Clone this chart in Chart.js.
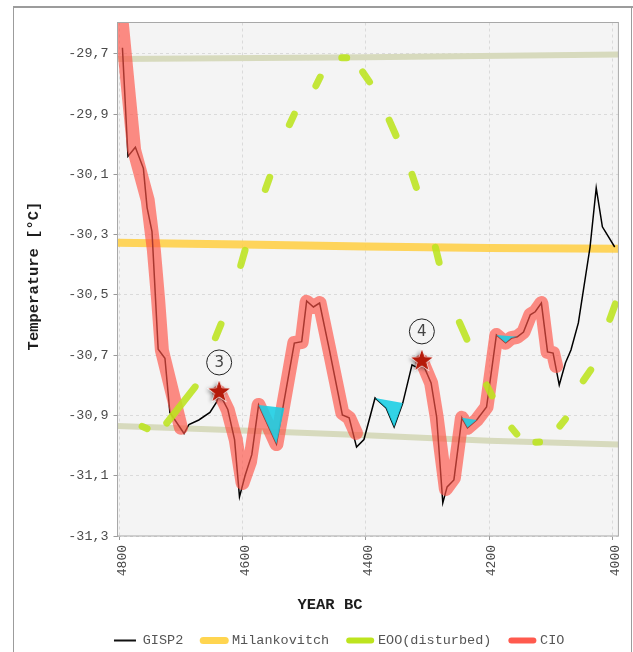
<!DOCTYPE html>
<html><head><meta charset="utf-8">
<style>html,body{margin:0;padding:0;background:#fff;overflow:hidden}canvas{display:block}</style>
<script src="https://cdn.jsdelivr.net/npm/chart.js@4.4.1/dist/chart.umd.min.js"></script>
</head><body>
<canvas id="c" width="633" height="652" style="width:633px;height:652px"></canvas>
<script>
// ---------- data ----------
const xTicks = [4800, 4600, 4400, 4200, 4000];
const yTicks = [-31.3, -31.1, -30.9, -30.7, -30.5, -30.3, -30.1, -29.9, -29.7];

const gispYears = [4795, 4786, 4774, 4761, 4755, 4747, 4737, 4726, 4718, 4695, 4687, 4671, 4653, 4642, 4638,
  4624, 4613, 4605, 4596, 4585, 4574, 4545, 4516, 4504, 4496, 4485, 4475, 4459, 4438, 4427, 4415, 4403,
  4385, 4367, 4354, 4340, 4325, 4319, 4309, 4294, 4285, 4275, 4268, 4257, 4244, 4235, 4220, 4204, 4188,
  4173, 4163, 4154, 4144, 4133, 4125, 4115, 4105, 4096, 4086, 4076, 4067, 4055, 4036, 4026, 4016, 4007, 3996];
const gispValues = [-29.68, -30.04, -30.01, -30.08, -30.21, -30.29, -30.68, -30.71, -30.89, -30.96, -30.93, -30.915, -30.89, -30.855, -30.825,
  -30.88, -30.98, -31.17, -31.10, -31.03, -30.865, -30.995, -30.66, -30.655, -30.52, -30.54, -30.527, -30.683, -30.898, -30.908, -31.005, -30.98,
  -30.842, -30.875, -30.938, -30.859, -30.732, -30.739, -30.722, -30.792, -30.905, -31.19, -31.137, -31.114, -30.908, -30.941, -30.915, -30.872, -30.633,
  -30.659, -30.643, -30.639, -30.623, -30.566, -30.556, -30.527, -30.689, -30.693, -30.799, -30.726, -30.683, -30.593, -30.341, -30.145, -30.274, -30.304, -30.341];

const cioYears = [4803, 4784, 4776, 4754, 4744, 4737, 4731, 4711, 4700, 4670,
  4638, 4624, 4611, 4600, 4588, 4574, 4545, 4516, 4504, 4496, 4485, 4475, 4459, 4438, 4427, 4416, 4360,
  4309, 4294, 4285, 4270, 4257, 4244, 4235, 4220, 4204, 4188, 4173, 4164, 4154, 4144, 4133, 4125, 4115, 4105, 4096, 4091];
const cioValues = [-29.45, -29.853, -30.019, -30.185, -30.351, -30.517, -30.683, -30.849, -30.941, null,
  -30.822, -30.882, -30.981, -31.124, -31.054, -30.865, -30.995, -30.659, -30.656, -30.523, -30.540, -30.527, -30.683, -30.892, -30.908, -30.958, null,
  -30.719, -30.792, -30.905, -31.144, -31.107, -30.908, -30.941, -30.915, -30.872, -30.633, -30.659, -30.643, -30.639, -30.623, -30.566, -30.556, -30.527, -30.689, -30.693, -30.736];

const milYears = [4803, 4600, 4400, 4200, 3990];
const milValues = [-30.327, -30.333, -30.339, -30.344, -30.347];

// EOO (disturbed): visible dash pieces, start/end pairs
const eooYears = [4763, 4755, 4723, 4677, 4644, 4635, 4603, 4596, 4563, 4556, 4524, 4516, 4481, 4474,
  4439, 4431, 4405, 4394, 4362, 4351, 4325, 4318, 4287, 4281, 4248, 4236, 4204, 4195, 4163, 4155,
  4124, 4118, 4085, 4076, 4047, 4035, 4004, 3995];
const eooValues = [-30.936, -30.944, -30.925, -30.805, -30.642, -30.597, -30.402, -30.352, -30.150, -30.110, -29.935, -29.900, -29.806, -29.777,
  -29.713, -29.713, -29.760, -29.793, -29.920, -29.971, -30.100, -30.143, -30.342, -30.392, -30.591, -30.647, -30.799, -30.835, -30.942, -30.962,
  -30.989, -30.988, -30.935, -30.912, -30.785, -30.749, -30.581, -30.530];

const bandHiYears = [4803, 4400, 3990];
const bandHiValues = [-29.717, -29.711, -29.702];
const bandLoYears = [4803, 4600, 4400, 4200, 3990];
const bandLoValues = [-30.935, -30.950, -30.966, -30.984, -30.996];

const dip1Years = [4574, 4545, 4532];        const dip1Values = [-30.865, -30.995, -30.875];
const dip2Years = [4385, 4367, 4354, 4340];  const dip2Values = [-30.842, -30.875, -30.938, -30.859];
const dip3Years = [4244, 4235, 4220];        const dip3Values = [-30.908, -30.941, -30.915];
const dip4Years = [4188, 4173, 4164, 4154];  const dip4Values = [-30.633, -30.659, -30.643, -30.639];

const starYears = [4638, 4309];
const starValues = [-30.822, -30.719];
const starLabels = ['3', '4'];

// ---------- helpers ----------
const pts = (xs, ys) => xs.map((x, i) => ({x: x, y: ys[i]}));
const MONO = '"Liberation Mono", "DejaVu Sans Mono", monospace';

function makeStar() {
  const c = document.createElement('canvas');
  c.width = 36; c.height = 36;
  const g = c.getContext('2d');
  const path = () => {
    g.beginPath();
    for (let i = 0; i < 10; i++) {
      const r = i % 2 ? 4.6 : 11.2;
      const a = -Math.PI / 2 + i * Math.PI / 5;
      g.lineTo(18 + r * Math.cos(a), 18 + r * Math.sin(a));
    }
    g.closePath();
  };
  g.save();
  g.shadowColor = 'rgba(0,0,0,0.55)'; g.shadowBlur = 4; g.shadowOffsetX = -2; g.shadowOffsetY = 1;
  path(); g.fillStyle = '#b51a0a'; g.fill();
  g.restore();
  path(); g.strokeStyle = '#ffffff'; g.lineWidth = 1.2; g.stroke();
  path(); g.fillStyle = '#b51a0a'; g.fill();
  return c;
}
const starImg = makeStar();

const cyan = 'rgba(24,206,228,0.88)';
const dip = (xs, ys) => ({
  data: pts(xs, ys), fill: 'shape', backgroundColor: cyan, borderWidth: 0,
  pointRadius: 0, tension: 0, clip: 0
});

const framePlugin = {
  id: 'frame',
  beforeDraw(chart) {
    const {ctx, chartArea: a} = chart;
    ctx.save();
    ctx.fillStyle = '#9c9c9c';
    ctx.fillRect(13, 6, 620, 2);
    ctx.fillRect(13, 6, 1, 660);
    ctx.fillRect(631, 6, 1, 660);
    ctx.fillStyle = '#f4f4f4';
    ctx.fillRect(a.left, a.top, a.right - a.left, a.bottom - a.top);
    ctx.restore();
  },
  afterDatasetsDraw(chart) {
    const {ctx, chartArea: a, scales} = chart;
    ctx.save();
    ctx.strokeStyle = '#a8a8a8'; ctx.lineWidth = 1;
    ctx.strokeRect(a.left, a.top, a.right - a.left, a.bottom - a.top);
    // numbered circles above the stars
    starYears.forEach((yr, i) => {
      const px = scales.x.getPixelForValue(yr);
      const py = scales.y.getPixelForValue(starValues[i]) - 29.5;
      ctx.beginPath(); ctx.arc(px, py, 12.5, 0, Math.PI * 2);
      ctx.lineWidth = 1; ctx.strokeStyle = '#222'; ctx.stroke();
      ctx.fillStyle = '#444'; ctx.font = '15px "DejaVu Sans", sans-serif';
      ctx.textAlign = 'center'; ctx.textBaseline = 'middle';
      ctx.fillText(starLabels[i], px, py + 0.5);
    });
    // axis titles
    ctx.fillStyle = '#1e1e1e';
    ctx.font = 'bold 15.5px ' + MONO;
    ctx.textAlign = 'center'; ctx.textBaseline = 'middle';
    ctx.fillText('YEAR BC', 330, 605.5);
    ctx.translate(34.5, 276); ctx.rotate(-Math.PI / 2);
    ctx.fillText('Temperature [°C]', 0, 0);
    ctx.restore();
  }
};

const datasets = [
  { label: 'stars', data: pts(starYears, starValues), showLine: false, pointStyle: starImg, pointRadius: 11, pointHoverRadius: 11, clip: false },
  dip(dip1Years, dip1Values), dip(dip2Years, dip2Values), dip(dip3Years, dip3Values), dip(dip4Years, dip4Values),
  { label: 'EOO(disturbed)', data: pts(eooYears, eooValues), borderColor: 'rgba(188,228,30,0.88)', borderWidth: 7,
    borderCapStyle: 'round', pointRadius: 0, tension: 0, fill: false, clip: 0,
    segment: { borderColor: c => (c.p0DataIndex % 2 === 1) ? 'rgba(0,0,0,0)' : undefined },
    legendColor: '#bde41e', legendWidth: 6, legendCap: 'round' },
  { label: 'CIO', data: pts(cioYears, cioValues), borderColor: 'rgba(255,84,72,0.66)', borderWidth: 14,
    borderCapStyle: 'round', borderJoinStyle: 'round', pointRadius: 0, tension: 0, fill: false, spanGaps: false, clip: 0,
    legendColor: '#ff5a4e', legendWidth: 6, legendCap: 'round' },
  { label: 'GISP2', data: pts(gispYears, gispValues), borderColor: '#000', borderWidth: 1.5, pointRadius: 0, tension: 0, fill: false, clip: 0,
    legendColor: '#111', legendWidth: 2, legendCap: 'butt' },
  { label: 'Milankovitch', data: pts(milYears, milValues), borderColor: 'rgba(255,206,64,0.85)', borderWidth: 8,
    pointRadius: 0, tension: 0, fill: false, clip: 0, legendColor: '#ffd550', legendWidth: 7, legendCap: 'round' },
  { label: 'band1', data: pts(bandHiYears, bandHiValues), borderColor: '#d7dabd', borderWidth: 6, pointRadius: 0, fill: false, clip: 0 },
  { label: 'band2', data: pts(bandLoYears, bandLoValues), borderColor: '#d7dabd', borderWidth: 6, pointRadius: 0, fill: false, clip: 0 }
];
const legendOrder = ['GISP2', 'Milankovitch', 'EOO(disturbed)', 'CIO'];

new Chart(document.getElementById('c'), {
  type: 'line',
  data: { datasets },
  plugins: [framePlugin],
  options: {
    responsive: false, animation: false, devicePixelRatio: 1, events: [],
    layout: { padding: { left: 58.4, right: 13, top: 22.5, bottom: -5.25 } },
    plugins: {
      tooltip: { enabled: false },
      legend: {
        position: 'bottom', align: 'center',
        labels: {
          usePointStyle: true, pointStyleWidth: 22, padding: 20, color: '#555',
          font: { family: MONO, size: 13.5 },
          generateLabels: chart => legendOrder.map(name => {
            const i = chart.data.datasets.findIndex(d => d.label === name);
            const d = chart.data.datasets[i];
            return { text: name, datasetIndex: i, pointStyle: 'line', strokeStyle: d.legendColor, fillStyle: d.legendColor,
              lineWidth: d.legendWidth, lineCap: d.legendCap, hidden: false, fontColor: '#555' };
          })
        }
      }
    },
    scales: {
      x: {
        type: 'linear', position: 'bottom', reverse: true, min: 3990, max: 4803,
        afterBuildTicks: s => { s.ticks = xTicks.map(v => ({value: v})); },
        afterFit: s => { s.height = 77.75; },
        ticks: { minRotation: 90, maxRotation: 90, padding: 5, labelOffset: 3, color: '#4a4a4a', font: { family: MONO, size: 13 },
          callback: v => String(v), autoSkip: false },
        grid: { color: '#dadada', lineWidth: 1, tickLength: 4, tickColor: '#9a9a9a', drawTicks: true },
        border: { display: false, dash: [3, 3] }
      },
      y: {
        type: 'linear', min: -31.3, max: -29.596,
        afterBuildTicks: s => { s.ticks = yTicks.map(v => ({value: v})); },
        afterFit: s => { s.width = 59.1; },
        ticks: { padding: 5, color: '#4a4a4a', font: { family: MONO, size: 13.4 },
          callback: v => Number(v).toFixed(1).replace('.', ',') },
        grid: { color: '#dadada', lineWidth: 1, tickLength: 4, tickColor: '#9a9a9a', drawTicks: true },
        border: { display: false, dash: [3, 3] }
      }
    }
  }
});
</script>
</body></html>
